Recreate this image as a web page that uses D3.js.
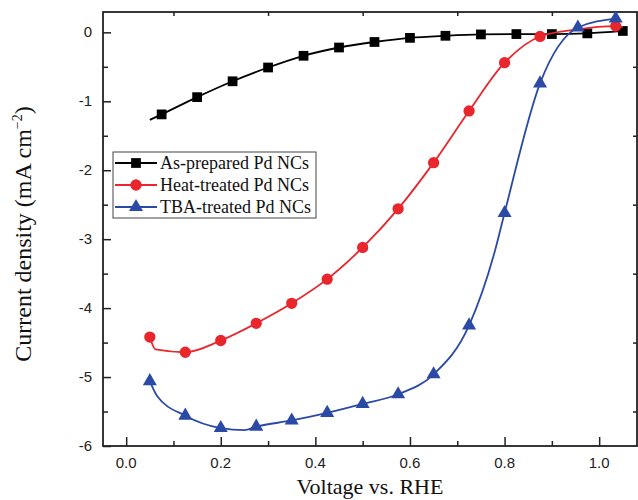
<!DOCTYPE html>
<html>
<head>
<meta charset="utf-8">
<script src="https://cdn.jsdelivr.net/npm/d3@7"></script>
<style>
  body { margin: 0; background: #fff; }
</style>
</head>
<body>
<div id="chart"></div>
<script>
/* DATA */
// marker points
const asPrepV = [0.075, 0.15, 0.225, 0.30, 0.375, 0.45, 0.525, 0.60, 0.675, 0.75, 0.825, 0.90, 0.975, 1.05];
const asPrepJ = [-1.19, -0.94, -0.71, -0.51, -0.34, -0.22, -0.14, -0.08, -0.05, -0.03, -0.025, -0.025, -0.015, 0.02];
const heatV = [0.05, 0.125, 0.20, 0.275, 0.35, 0.425, 0.50, 0.575, 0.65, 0.725, 0.80, 0.875, 1.035];
const heatJ = [-4.42, -4.64, -4.47, -4.22, -3.93, -3.58, -3.12, -2.56, -1.89, -1.14, -0.44, -0.06, 0.09];
const tbaV = [0.05, 0.125, 0.20, 0.275, 0.35, 0.425, 0.50, 0.575, 0.65, 0.725, 0.80, 0.875, 0.955, 1.035];
const tbaJ = [-5.06, -5.56, -5.74, -5.72, -5.63, -5.52, -5.39, -5.25, -4.96, -4.25, -2.62, -0.74, 0.07, 0.20];
// extra points on the lines (no marker)
const asPrepExtra = [[0.05, -1.27]];
const heatExtra = [[0.062, -4.60], [0.95, 0.04], [1.05, 0.08]];
const tbaExtra = [[0.065, -5.27], [0.25, -5.77], [0.78, -3.16]];

const xTicks = [0.0, 0.2, 0.4, 0.6, 0.8, 1.0];
const yTicks = [0, -1, -2, -3, -4, -5, -6];
const seriesNames = ["As-prepared Pd NCs", "Heat-treated Pd NCs", "TBA-treated Pd NCs"];

/* SIZES */
const width = 638, height = 500;
const margin = {left: 103, top: 12, right: 1, bottom: 54};
const innerW = width - margin.left - margin.right;
const innerH = height - margin.top - margin.bottom;

const svg = d3.select("#chart").append("svg")
  .attr("width", width)
  .attr("height", height);

const x = d3.scaleLinear().domain([-0.049, 1.08]).range([margin.left, margin.left + innerW]);
const y = d3.scaleLinear().domain([-6, 0.295]).range([margin.top + innerH, margin.top]);

const colors = ["#000000", "#e8262c", "#2b4aa6"];

function build(vs, js, extra) {
  const pts = vs.map((v, i) => [v, js[i]]).concat(extra);
  return pts.sort((a, b) => a[0] - b[0]);
}

const series = [
  {name: seriesNames[0], marks: asPrepV.map((v, i) => [v, asPrepJ[i]]), line: build(asPrepV, asPrepJ, asPrepExtra), color: colors[0], sym: d3.symbolSquare, size: 95},
  {name: seriesNames[1], marks: heatV.map((v, i) => [v, heatJ[i]]), line: build(heatV, heatJ, heatExtra), color: colors[1], sym: d3.symbolCircle, size: 100},
  {name: seriesNames[2], marks: tbaV.map((v, i) => [v, tbaJ[i]]), line: build(tbaV, tbaJ, tbaExtra), color: colors[2], sym: d3.symbolTriangle, size: 85}
];

/* AXES (ticks inward) */
const axBottom = svg.append("g").attr("transform", `translate(0,${margin.top + innerH})`);
axBottom.call(d3.axisBottom(x).tickValues(d3.range(0, 1.01, 0.1)).tickSize(-5).tickFormat(""));
axBottom.call(g => g.selectAll(".tick line").filter((d, i) => i % 2 === 0).attr("y2", -9));
axBottom.selectAll(".domain").remove();
axBottom.selectAll("text.lbl").data(xTicks).join("text")
  .attr("class", "lbl")
  .attr("x", d => x(d)).attr("y", 22)
  .attr("text-anchor", "middle")
  .attr("font-family", "Liberation Sans, Arial, sans-serif")
  .attr("font-size", 15).attr("fill", "#222")
  .text(d => d3.format(".1f")(d));

const axLeft = svg.append("g").attr("transform", `translate(${margin.left},0)`);
axLeft.call(d3.axisLeft(y).tickValues(d3.range(-6, 0.01, 0.5)).tickSize(-5).tickFormat(""));
axLeft.call(g => g.selectAll(".tick line").filter(d => Number.isInteger(d)).attr("x2", 8));
axLeft.selectAll(".domain").remove();
axLeft.selectAll("text.lbl").data(yTicks).join("text")
  .attr("class", "lbl")
  .attr("x", -11).attr("y", d => y(d) + 5)
  .attr("text-anchor", "end")
  .attr("font-family", "Liberation Sans, Arial, sans-serif")
  .attr("font-size", 15).attr("fill", "#222")
  .text(d => d);

const axTop = svg.append("g").attr("transform", `translate(0,${margin.top})`);
axTop.call(d3.axisTop(x).tickValues([0.1, 0.3, 0.5, 0.7, 0.9]).tickSize(-4).tickFormat(""));
axTop.selectAll(".domain").remove();

const axRight = svg.append("g").attr("transform", `translate(${margin.left + innerW},0)`);
axRight.call(d3.axisRight(y).tickValues([-5.5, -4.5, -3.5, -2.5, -1.5, -0.5]).tickSize(-4).tickFormat(""));
axRight.selectAll(".domain").remove();

svg.selectAll(".tick line").attr("stroke", "#222").attr("stroke-width", 1.5);

// frame
svg.append("rect")
  .attr("x", margin.left).attr("y", margin.top)
  .attr("width", innerW).attr("height", innerH)
  .attr("fill", "none").attr("stroke", "#222").attr("stroke-width", 1.8);

/* LINES AND MARKERS */
const line = d3.line().x(d => x(d[0])).y(d => y(d[1])).curve(d3.curveMonotoneX);

series.forEach(s => {
  svg.append("path")
    .attr("d", line(s.line))
    .attr("fill", "none")
    .attr("stroke", s.color)
    .attr("stroke-width", 1.8);
  svg.append("g").selectAll("path")
    .data(s.marks)
    .join("path")
    .attr("transform", d => `translate(${x(d[0])},${y(d[1])})`)
    .attr("d", d3.symbol().type(s.sym).size(s.size))
    .attr("fill", s.color);
});

/* LEGEND */
const lg = svg.append("g").attr("transform", "translate(113,152)");
lg.append("rect").attr("width", 203).attr("height", 66)
  .attr("fill", "#fff").attr("stroke", "#444").attr("stroke-width", 1);
series.forEach((s, i) => {
  const yy = 11 + i * 22;
  lg.append("line").attr("x1", 2).attr("x2", 44).attr("y1", yy).attr("y2", yy)
    .attr("stroke", s.color).attr("stroke-width", 1.8);
  lg.append("path").attr("transform", `translate(23,${yy})`)
    .attr("d", d3.symbol().type(s.sym).size(s.size)).attr("fill", s.color);
  lg.append("text").attr("x", 47).attr("y", yy + 6)
    .attr("font-family", "Liberation Serif, Times New Roman, serif")
    .attr("font-size", 18).attr("fill", "#111")
    .text(s.name);
});

/* AXIS TITLES */
svg.append("text")
  .attr("x", 370).attr("y", 494)
  .attr("text-anchor", "middle")
  .attr("font-family", "Liberation Serif, Times New Roman, serif")
  .attr("font-size", 22).attr("fill", "#111")
  .text("Voltage vs. RHE");

const yt = svg.append("text")
  .attr("transform", "translate(31,234) rotate(-90)")
  .attr("text-anchor", "middle")
  .attr("font-family", "Liberation Serif, Times New Roman, serif")
  .attr("font-size", 24).attr("fill", "#111");
yt.append("tspan").text("Current density (mA cm");
yt.append("tspan").attr("dy", -9).attr("font-size", 14).text("\u22122");
yt.append("tspan").attr("dy", 9).text(")");
</script>
</body>
</html>
